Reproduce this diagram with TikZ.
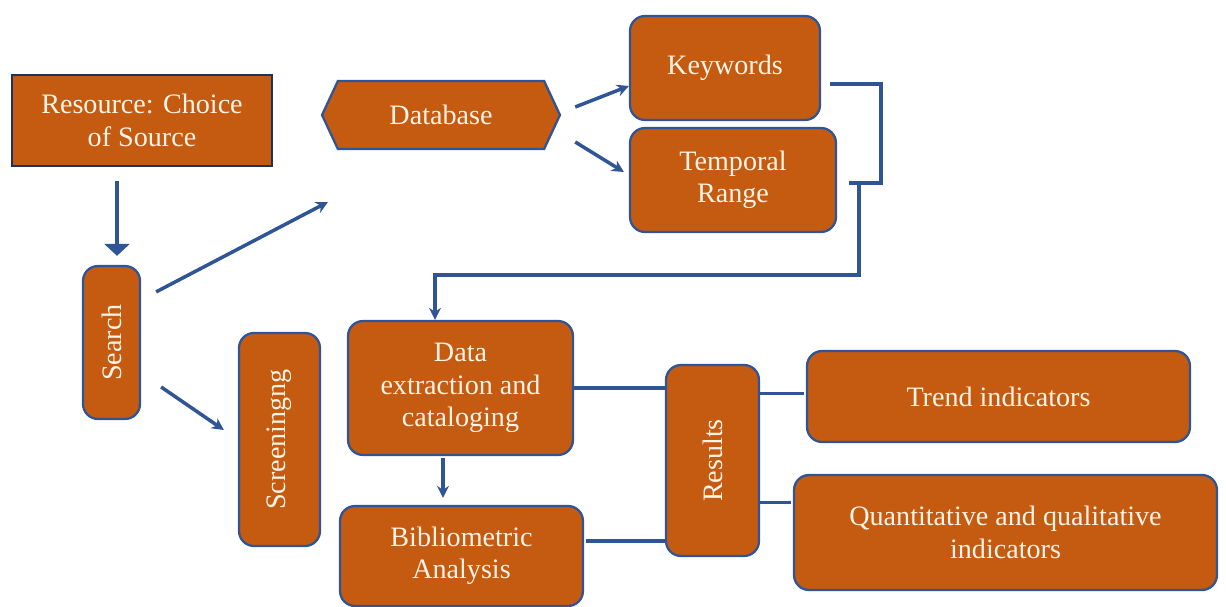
\documentclass[tikz,border=0pt]{standalone}
\usepackage{fontspec}
\setmainfont{Liberation Serif}
\usetikzlibrary{arrows.meta,shapes.symbols}
\definecolor{boxfill}{RGB}{197,90,17}
\definecolor{boxline}{RGB}{47,85,151}
\definecolor{boxtext}{RGB}{255,244,230}
\tikzset{
  box/.style={rectangle,draw=boxline,fill=boxfill,line width=1.3pt,rounded corners=0.3cm,
    text=boxtext,align=center,inner sep=2pt,font=\fontsize{16}{18.5}\selectfont},
  link/.style={draw=boxline,line width=2pt},
  arr/.style={link,-{Stealth[length=0.24cm,width=0.24cm]}},
}

\begin{document}
\begin{tikzpicture}[x=0.02cm,y=-0.02cm]
\useasboundingbox (0,0) rectangle (1226,607);
\coordinate (Res) at (142,120.5);
\coordinate (Sea) at (111.5,342.5);
\coordinate (Db) at (441,115);
\coordinate (Key) at (725,68);
\coordinate (Tem) at (733,180);
\coordinate (Scr) at (279.5,439.5);
\coordinate (Dat) at (460.5,388);
\coordinate (Bib) at (461.5,556);
\coordinate (Rsl) at (712.5,460.5);
\coordinate (Tre) at (998.5,396.5);
\coordinate (Qua) at (1005.5,532.5);
\coordinate (In) at (328,202);
\coordinate (B) at (881,84);
\coordinate (C) at (881,183);
\coordinate (J) at (859,183);

\node[box,sharp corners,draw=boxline!60!black,minimum width=5.2cm,minimum height=1.82cm] (Res1) at (Res) {Resource: Choice\\of Source};
\node[box,minimum width=1.14cm,minimum height=3.06cm] (Sea1) at (Sea) {\rotatebox{90}{Search}};
\node[box,sharp corners,signal,signal to=west and east,signal pointer angle=130,minimum width=4.76cm,minimum height=1.36cm] (Db1) at (Db) {Database};
\node[box,minimum width=3.8cm,minimum height=2.08cm] (Key1) at (Key) {Keywords};
\node[box,minimum width=4.12cm,minimum height=2.08cm] (Tem1) at (Tem) {Temporal\\Range};
\node[box,minimum width=1.62cm,minimum height=4.26cm] (Scr1) at (Scr) {\rotatebox{90}{Screeningng}};
\node[box,minimum width=4.5cm,minimum height=2.68cm] (Dat1) at (Dat) {Data\\extraction and\\cataloging};
\node[box,minimum width=4.86cm,minimum height=2cm] (Bib1) at (Bib) {Bibliometric\\Analysis};
\node[box,minimum width=1.86cm,minimum height=3.82cm] (Rsl1) at (Rsl) {\rotatebox{90}{Results}};
\node[box,minimum width=7.66cm,minimum height=1.82cm] (Tre1) at (Tre) {Trend indicators};
\node[box,minimum width=8.46cm,minimum height=2.3cm] (Qua1) at (Qua) {Quantitative and qualitative\\indicators};

\draw[link,-{Triangle[length=0.24cm,width=0.5cm]},shorten <=0.28cm,shorten >=0.18cm] ([shift={(-25,0)}]Res1.south) -- ([shift={(-25,0)}]Res1.south |- Sea1.north);
\draw[arr] ([shift={(15,27)}]Sea1.north east) -- (In);
\draw[arr] ([shift={(20,44.5)}]Sea1.east) -- ([shift={(-14,-9.5)}]Scr1.west);
\draw[arr] ([shift={(14,-8)}]Db1.east) -- ([shift={(0,18)}]Key1.west);
\draw[arr] ([shift={(14,27)}]Db1.east) -- ([shift={(-5,-8)}]Tem1.west);
\draw[link] ([shift={(9,16)}]Key1.east) -- (B) -- (C) -- ([shift={(12,3)}]Tem1.east);
\draw[arr] (J) -- ++(0,92) -| ([shift={(-25.5,0)}]Dat1.north);
\draw[arr,shorten >=0.14cm] ([shift={(-17.5,2)}]Dat1.south) -- ([shift={(-17.5,0)}]Dat1.south |- Bib1.north);
\draw[link] (Dat1.east) -- (Dat1.east -| Rsl1.west);
\draw[link] ([shift={(2,-15)}]Bib1.east) -- ([shift={(2,-15)}]Bib1.east -| Rsl1.west);
\draw[link] ([shift={(0,-3)}]Tre1.west -| Rsl1.east) -- ([shift={(-2,-3)}]Tre1.west);
\draw[link] ([shift={(0,-30)}]Qua1.west -| Rsl1.east) -- ([shift={(-2,-30)}]Qua1.west);

\end{tikzpicture}
\end{document}
